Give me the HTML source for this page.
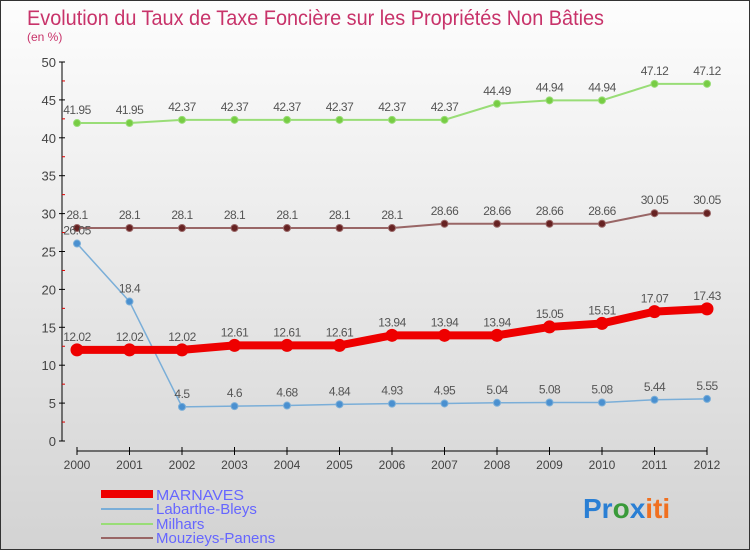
<!DOCTYPE html>
<html><head><meta charset="utf-8"><style>
body{margin:0}
#wrap{width:748px;height:548px;border:1px solid #333;background:linear-gradient(#fdfdfd,#d3d3d3);position:relative;font-family:"Liberation Sans",sans-serif;overflow:hidden}
svg{position:absolute;left:0;top:0}
</style></head><body>
<div id="wrap">
<svg id="c" width="750" height="550">
<text x="26" y="24" font-size="21" fill="#c8336a" textLength="577" lengthAdjust="spacingAndGlyphs">Evolution du Taux de Taxe Foncière sur les Propriétés Non Bâties</text>
<text x="26" y="40" font-size="12" fill="#c8336a">(en %)</text>
<g id="axes"></g><g id="series"></g>
<g>
<rect x="100" y="489" width="52" height="8" fill="#e00"/>
<text x="155" y="499" font-size="15" fill="#6666ff" textLength="88" lengthAdjust="spacingAndGlyphs">MARNAVES</text>
<rect x="100" y="507" width="52" height="2" fill="#7aaed8"/>
<text x="155" y="513" font-size="15" fill="#6666ff">Labarthe-Bleys</text>
<rect x="100" y="522" width="52" height="2" fill="#99dd77"/>
<text x="155" y="528" font-size="15" fill="#6666ff">Milhars</text>
<rect x="100" y="536" width="52" height="2" fill="#996666"/>
<text x="155" y="542" font-size="15" fill="#6666ff">Mouzieys-Panens</text>
</g>
<text x="582" y="517" font-size="28" font-weight="bold"><tspan fill="#2a7fd4">Pr</tspan><tspan fill="#3a9a3a">o</tspan><tspan fill="#2a7fd4">x</tspan><tspan fill="#f07020">iti</tspan></text>
</svg></div>
<script>
const years=[2000,2001,2002,2003,2004,2005,2006,2007,2008,2009,2010,2011,2012];
const marnaves=[12.02,12.02,12.02,12.61,12.61,12.61,13.94,13.94,13.94,15.05,15.51,17.07,17.43];
const labarthe=[26.05,18.4,4.5,4.6,4.68,4.84,4.93,4.95,5.04,5.08,5.08,5.44,5.55];
const milhars=[41.95,41.95,42.37,42.37,42.37,42.37,42.37,42.37,44.49,44.94,44.94,47.12,47.12];
const mouzieys=[28.1,28.1,28.1,28.1,28.1,28.1,28.1,28.66,28.66,28.66,28.66,30.05,30.05];
const yTicks=[0,5,10,15,20,25,30,35,40,45,50];
const NS="http://www.w3.org/2000/svg";
const X=i=>76+i*52.5, Y=v=>440-v*7.58;
function mk(t,a,p){const e=document.createElementNS(NS,t);for(const k in a)e.setAttribute(k,a[k]);p.appendChild(e);return e;}
const ax=document.getElementById('axes'), sg=document.getElementById('series');
let l=mk('line',{x1:61,y1:Y(50),x2:61,y2:440,stroke:'#000'},ax);


yTicks.forEach(v=>{
 mk('line',{x1:58,x2:64,y1:Y(v),y2:Y(v),stroke:'#000'},ax);
 if(v<50) mk('line',{x1:61,x2:64,y1:Y(v+2.5),y2:Y(v+2.5),stroke:'#d00'},ax);
 const t=mk('text',{x:55,y:Y(v)+5,'font-size':13,fill:'#444','text-anchor':'end'},ax);t.textContent=v;
 
 
});
l=mk('line',{x1:76,y1:450,x2:706,y2:450,stroke:'#000'},ax);


years.forEach((y,i)=>{
 mk('line',{x1:X(i),x2:X(i),y1:446,y2:454,stroke:'#000'},ax);
 const t=mk('text',{x:X(i),y:468,'font-size':12,fill:'#444','text-anchor':'middle'},ax);t.textContent=y;
 
 
});
function series(d,col,dot,w,r,name){
 const g=mk('g',{},sg);
 
 
 mk('polyline',{points:d.map((v,i)=>X(i)+','+Y(v)).join(' '),fill:'none',stroke:col,'stroke-width':w},g);
 d.forEach((v,i)=>{
  const c=mk('circle',{cx:X(i),cy:Y(v),r:r,fill:dot,stroke:col,'stroke-width':1},g);
  
  
  const t=mk('text',{x:X(i),y:Y(v)-9,'font-size':12,fill:'#555','text-anchor':'middle','letter-spacing':'-0.5'},g);
  t.textContent=String(v);
  
  
 });
}
series(milhars,'#99dd77','#77cc44',2,3.5,'milhars');
series(mouzieys,'#996666','#662222',2,3.5,'mouzieys');
series(labarthe,'#7aaed8','#4a90d0',1.5,3.5,'labarthe');
series(marnaves,'#ee0000','#ee0000',8,6,'marnaves');
</script>
</body></html>
